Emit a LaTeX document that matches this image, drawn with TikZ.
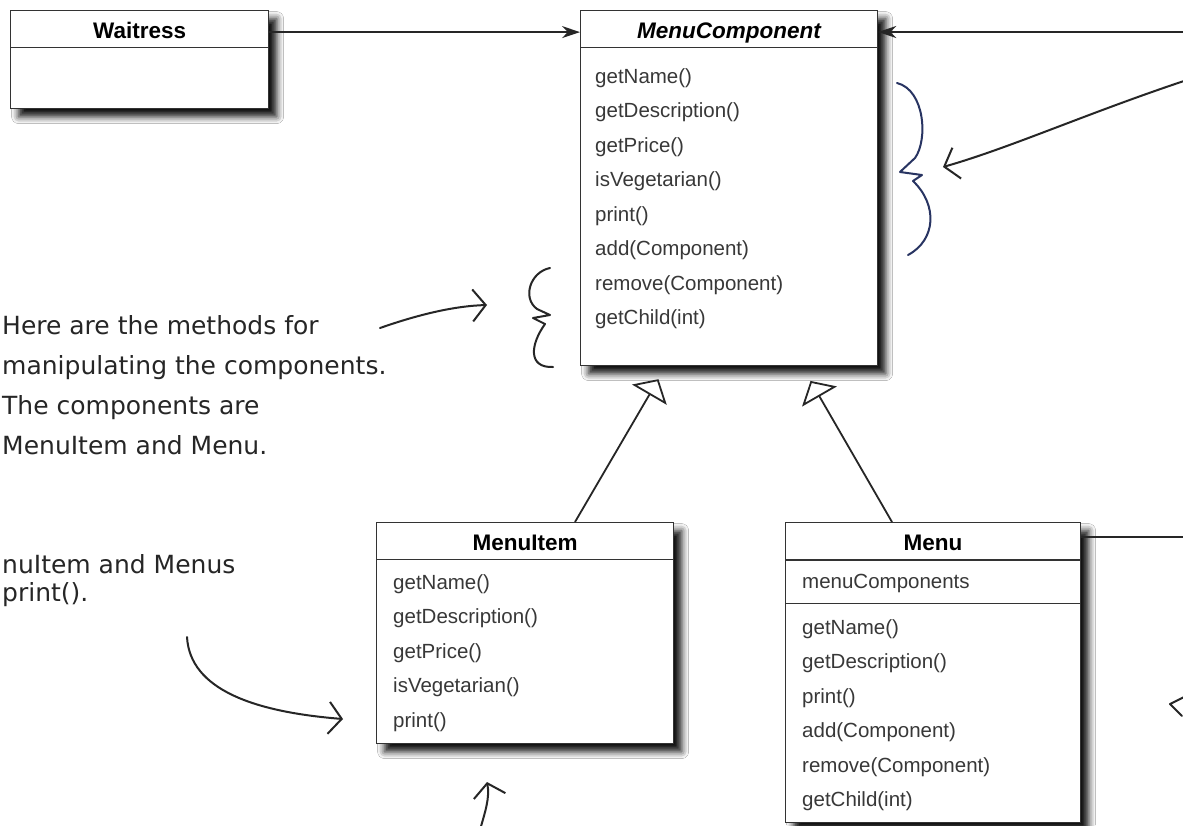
\documentclass[tikz,border=0pt]{standalone}
\usepackage{fontspec}
\newfontfamily\umlfont{Liberation Sans}
\newfontfamily\handfont{DejaVu Sans}
\usetikzlibrary{arrows.meta,shadows.blur,positioning}
\definecolor{inkblue}{RGB}{40,52,98}

\begin{document}
\begin{tikzpicture}[x=1pt,y=-1pt,
    classbox/.style={draw=black!80, line width=1.2pt, fill=white, anchor=north west, inner sep=0pt,
      blur shadow={shadow xshift=8pt, shadow yshift=-8pt, shadow blur radius=7pt, shadow opacity=95}},
    classtitle/.style={draw=black!80, line width=1.2pt, anchor=north, inner sep=0pt, minimum height=37pt,
      text height=19pt, text depth=0pt, font={\umlfont\bfseries\fontsize{22.5}{27}\selectfont}},
    ops/.style={inner sep=0pt, align=left, text=black!78, font={\umlfont\fontsize{20.5}{34.5}\selectfont}},
    assoc/.style={line width=2pt, draw=black!85, -{Stealth[length=18pt,width=12pt]}},
    inherit/.style={line width=1.8pt, draw=black!85, -{Triangle[open,length=18pt,width=40pt,fill=white]}},
    hand/.style={line width=2pt, draw=black!85, line cap=round, -{Straight Barb[length=13pt,width=32pt]}},
    note/.style={anchor=north west, inner sep=0pt, align=left, text=black!85,
      font={\handfont\fontsize{25}{40}\selectfont}}]
    \useasboundingbox (0,0) rectangle (1183,825);
    \clip (0,0) rectangle (1183,825);
    \fill[white] (0,0) rectangle (1183,825);

    %% class boxes
    \node[classbox, minimum width=258pt, minimum height=98pt] (waitress) at (10,10) {};
    \node[classtitle, minimum width=258pt] (waitresstitle) at (waitress.north) {Waitress};

    \node[classbox, minimum width=297pt, minimum height=355pt] (comp) at (580,10) {};
    \node[classtitle, minimum width=297pt] (comptitle) at (comp.north) {\itshape MenuComponent};
    \node[ops, below right=58pt and 15pt of comp.north west] (compops)
      {getName()\\getDescription()\\getPrice()\\isVegetarian()\\print()\\add(Component)\\remove(Component)\\getChild(int)};

    \node[classbox, minimum width=297pt, minimum height=221pt] (item) at (376,522) {};
    \node[classtitle, minimum width=297pt] (itemtitle) at (item.north) {MenuItem};
    \node[ops, below right=52pt and 17pt of item.north west] (itemops)
      {getName()\\getDescription()\\getPrice()\\isVegetarian()\\print()};

    \node[classbox, minimum width=295pt, minimum height=300pt] (menu) at (785,522) {};
    \node[classtitle, minimum width=295pt] (menutitle) at (menu.north) {Menu};
    \node[draw=black!80, line width=1.2pt, anchor=north, minimum width=295pt, minimum height=43pt] (menuattrbox) at (menutitle.south) {};
    \node[ops, below right=52pt and 17pt of menu.north west] (menuattr) {menuComponents};
    \node[ops, below right=97pt and 17pt of menu.north west] (menuops)
      {getName()\\getDescription()\\print()\\add(Component)\\remove(Component)\\getChild(int)};

    %% associations
    \coordinate (rightin) at (1190,32);
    \coordinate (rightout) at (1190,537);
    \draw[assoc] ([yshift=-3pt]waitresstitle.east) -- ([yshift=-3pt]waitresstitle.east -| comp.west);
    \draw[assoc] (rightin) -- (rightin -| comp.east);
    \draw[line width=2pt, draw=black!85] (rightout -| menu.east) -- (rightout);

    %% inheritance
    \draw[inherit, shorten >=15pt] ([xshift=199pt]item.north west) -- ([xshift=86pt]comp.south west);
    \draw[inherit, shorten >=17pt] ([xshift=107pt]menu.north west) -- ([xshift=222pt]comp.south west);

    %% handwritten notes
    \node[note] (notemethods) at (2,315)
      {Here are the methods for\\manipulating the components.\\The components are\\MenuItem and Menu.};
    \node[note, font={\handfont\fontsize{25}{28}\selectfont}] (noteprint) at (2,554)
      {nuItem and Menus\\print().};

    \coordinate (methodsfrom) at (380,328);
    \coordinate (methodsto) at (487,305);
    \draw[hand] (methodsfrom) .. controls (420,314) and (455,306) .. (methodsto);

    \coordinate (printfrom) at (187,637);
    \coordinate (printto) at (343,719);
    \draw[hand] (printfrom) .. controls (190,690) and (255,712) .. (printto);

    \coordinate (bottomfrom) at (480,830);
    \coordinate (bottomto) at (487,782);
    \draw[hand] (bottomfrom) .. controls (485,812) and (490,798) .. (bottomto);

    \coordinate (bracefrom) at (1190,79);
    \coordinate (braceto) at (943,167);
    \draw[hand] (bracefrom) .. controls (1090,112) and (1010,148) .. (braceto);

    %% braces
    \draw[line width=2pt, black!85, line cap=round, line join=round]
      (550,268) .. controls (530,272) and (522,298) .. (537,309) -- (550,315) -- (533,318) -- (545,324)
      .. controls (530,345) and (528,368) .. (553,367);
    \draw[line width=2pt, inkblue, line cap=round, line join=round]
      (897,83) .. controls (925,90) and (928,140) .. (915,158) -- (900,172) -- (922,175) -- (913,181)
      .. controls (938,205) and (936,240) .. (908,255);
    \draw[line width=2pt, black!85, line cap=round, line join=round] (1186,696) -- (1170,704) -- (1182,716);
\end{tikzpicture}
\end{document}
